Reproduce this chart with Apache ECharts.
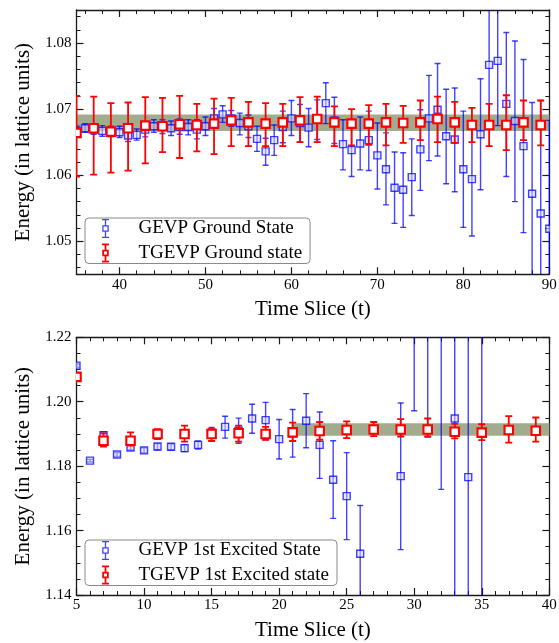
<!DOCTYPE html>
<html>
<head>
<meta charset="utf-8">
<script src="https://cdn.jsdelivr.net/npm/echarts@6/dist/echarts.min.js"></script>
<style>
  html, body { margin: 0; padding: 0; background: #fff; }
  #chart { width: 559px; height: 643px; }
</style>
</head>
<body>
<div id="chart"></div>
<script>
// ---------- Ground state (upper panel) ----------
const groundT = [35, 36, 37, 38, 39, 40, 41, 42, 43, 44, 45, 46, 47, 48, 49, 50, 51, 52, 53, 54,
  55, 56, 57, 58, 59, 60, 61, 62, 63, 64, 65, 66, 67, 68, 69, 70, 71, 72, 73, 74,
  75, 76, 77, 78, 79, 80, 81, 82, 83, 84, 85, 86, 87, 88, 89, 90];
const gevpGround = [1.0667, 1.0671, 1.0669, 1.0667, 1.0666, 1.0665, 1.0660, 1.0661, 1.0669, 1.0674,
  1.0673, 1.0671, 1.0673, 1.0673, 1.0669, 1.0674, 1.0686, 1.0692, 1.0686, 1.0679,
  1.0674, 1.0655, 1.0636, 1.0653, 1.0673, 1.0686, 1.0679, 1.0672, 1.0684, 1.0709,
  1.0683, 1.0647, 1.0638, 1.0648, 1.0653, 1.0630, 1.0609, 1.0581, 1.0578, 1.0597,
  1.0639, 1.0686, 1.0699, 1.0659, 1.0654, 1.0609, 1.0594, 1.0662, 1.0767, 1.0773,
  1.0708, 1.0682, 1.0644, 1.0572, 1.0542, 1.0519];
const gevpGroundLo = [1.0660, 1.0665, 1.0662, 1.0659, 1.0658, 1.0657, 1.0651, 1.0653, 1.0658, 1.0665,
  1.0663, 1.0660, 1.0662, 1.0661, 1.0655, 1.0660, 1.0671, 1.0680, 1.0674, 1.0661,
  1.0657, 1.0636, 1.0615, 1.0630, 1.0649, 1.0660, 1.0650, 1.0643, 1.0654, 1.0678,
  1.0648, 1.0608, 1.0598, 1.0608, 1.0607, 1.0579, 1.0555, 1.0527, 1.0521, 1.0539,
  1.0577, 1.0622, 1.0629, 1.0587, 1.0575, 1.0521, 1.0508, 1.0578, 1.0675, 1.0675,
  1.0598, 1.0560, 1.0513, 1.0434, 1.0371, 1.0355];
const gevpGroundHi = [1.0674, 1.0678, 1.0676, 1.0675, 1.0674, 1.0674, 1.0671, 1.0670, 1.0680, 1.0684,
  1.0684, 1.0682, 1.0685, 1.0684, 1.0684, 1.0688, 1.0701, 1.0705, 1.0698, 1.0694,
  1.0691, 1.0674, 1.0656, 1.0676, 1.0697, 1.0713, 1.0707, 1.0701, 1.0714, 1.0740,
  1.0718, 1.0684, 1.0684, 1.0688, 1.0697, 1.0679, 1.0664, 1.0635, 1.0634, 1.0655,
  1.0699, 1.0751, 1.0769, 1.0730, 1.0732, 1.0697, 1.0681, 1.0746, 1.0859, 1.0871,
  1.0816, 1.0803, 1.0775, 1.0710, 1.0713, 1.0683];

const tgevpGroundT = [35, 37, 39, 41, 43, 45, 47, 49, 51, 53, 55, 57, 59, 61,
  63, 65, 67, 69, 71, 73, 75, 77, 79, 81, 83, 85, 87, 89];
const tgevpGround = [1.0664, 1.0671, 1.0666, 1.0671, 1.0675, 1.0674, 1.0677, 1.0676, 1.0678, 1.0683,
  1.0680, 1.0678, 1.0680, 1.0683, 1.0685, 1.0680, 1.0678, 1.0678, 1.0680, 1.0679,
  1.0680, 1.0685, 1.0680, 1.0676, 1.0676, 1.0676, 1.0680, 1.0676];
const tgevpGroundLo = [1.0598, 1.0601, 1.0604, 1.0607, 1.0618, 1.0635, 1.0626, 1.0636, 1.0632, 1.0644,
  1.0644, 1.0644, 1.0644, 1.0650, 1.0650, 1.0644, 1.0645, 1.0646, 1.0645, 1.0649,
  1.0653, 1.0650, 1.0649, 1.0650, 1.0644, 1.0638, 1.0653, 1.0645];
const tgevpGroundHi = [1.0720, 1.0719, 1.0709, 1.0710, 1.0718, 1.0717, 1.0720, 1.0708, 1.0716, 1.0717,
  1.0711, 1.0709, 1.0708, 1.0718, 1.0719, 1.0704, 1.0700, 1.0706, 1.0708, 1.0705,
  1.0713, 1.0719, 1.0711, 1.0702, 1.0708, 1.0721, 1.0713, 1.0713];

// fitted plateau: [t from, t to, E low, E high]
const groundFit = [35, 90, 1.0667, 1.0692];

// ---------- First excited state (lower panel) ----------
const excitedT = [5, 6, 7, 8, 9, 10, 11, 12, 13, 14, 15, 16, 17, 18, 19, 20, 21, 22, 23, 24,
  25, 26, 29, 30, 31, 32, 33, 34, 35];
const gevpExcited = [1.2112, 1.1817, 1.1896, 1.1836, 1.1858, 1.1849, 1.1861, 1.1860, 1.1856, 1.1866,
  1.1904, 1.1922, 1.1910, 1.1948, 1.1943, 1.1884, 1.1902, 1.1941, 1.1866, 1.1758,
  1.1707, 1.1528, 1.1769, 1.2320, 1.2360, 1.2320, 1.1948, 1.1766, 1.1300];
const gevpExcitedLo = [1.2107, 1.1813, 1.1886, 1.1830, 1.1850, 1.1841, 1.1851, 1.1851, 1.1845, 1.1853,
  1.1888, 1.1887, 1.1871, 1.1902, 1.1882, 1.1822, 1.1828, 1.1857, 1.1762, 1.1638,
  1.1572, 1.1378, 1.1541, 1.1972, 1.1890, 1.1728, 1.1200, 1.0900, 1.0300];
const gevpExcitedHi = [1.2117, 1.1821, 1.1906, 1.1842, 1.1866, 1.1857, 1.1870, 1.1869, 1.1866, 1.1878,
  1.1920, 1.1955, 1.1949, 1.1992, 1.1998, 1.1945, 1.1976, 1.2025, 1.1968, 1.1879,
  1.1842, 1.1678, 1.1996, 1.2670, 1.2830, 1.2910, 1.2700, 1.2630, 1.2300];

const tgevpExcitedT = [5, 7, 9, 11, 13, 15, 17, 19, 21, 23, 25, 27, 29, 31, 33, 35, 37, 39];
const tgevpExcited = [1.2077, 1.1879, 1.1879, 1.1900, 1.1900, 1.1900, 1.1902, 1.1900, 1.1905, 1.1909,
  1.1912, 1.1914, 1.1914, 1.1914, 1.1907, 1.1904, 1.1912, 1.1910];
const tgevpExcitedLo = [1.2072, 1.1861, 1.1864, 1.1884, 1.1876, 1.1878, 1.1876, 1.1882, 1.1878, 1.1882,
  1.1887, 1.1893, 1.1892, 1.1892, 1.1886, 1.1881, 1.1873, 1.1876];
const tgevpExcitedHi = [1.2082, 1.1902, 1.1905, 1.1915, 1.1926, 1.1915, 1.1926, 1.1922, 1.1935, 1.1937,
  1.1939, 1.1937, 1.1946, 1.1948, 1.1931, 1.1930, 1.1955, 1.1951];

const excitedFit = [21, 40, 1.1894, 1.1933];

// ---------- tick labels ----------
const groundXTicks = [40, 50, 60, 70, 80, 90];
const groundYTicks = [1.05, 1.06, 1.07, 1.08];
const excitedXTicks = [5, 10, 15, 20, 25, 30, 35, 40];
const excitedYTicks = [1.14, 1.16, 1.18, 1.20, 1.22];

// ---------- styling helpers ----------
const SERIF = 'Liberation Serif';
const INK = '#1a1a1a';
const BLUE = { color: 'rgba(0,0,255,0.74)', face: 'rgba(215,215,255,0.55)', lineWidth: 1.4, cap: 6, size: 7, edge: 1.4 };
const RED = { color: '#ff0000', face: '#ffffff', lineWidth: 1.8, cap: 7, size: 8.5, edge: 2.1 };
const BAND = '#a2ab8e';

function steps(from, to, step) {
  const out = [];
  const n = Math.round((to - from) / step);
  for (let i = 0; i <= n; i++) out.push(Math.round((from + i * step) * 1e6) / 1e6);
  return out;
}

function rows(t, v, lo, hi) {
  return t.map((x, i) => [x, v[i], lo[i], hi[i]]);
}

function errorBarItem(look) {
  return function (params, api) {
    const c = api.coord([api.value(0), api.value(1)]);
    const a = api.coord([api.value(0), api.value(2)]);
    const b = api.coord([api.value(0), api.value(3)]);
    const hc = look.cap / 2, hs = look.size / 2;
    const line = { stroke: look.color, lineWidth: look.lineWidth };
    return {
      type: 'group',
      children: [
        { type: 'line', shape: { x1: c[0], y1: a[1], x2: c[0], y2: b[1] }, style: line },
        { type: 'line', shape: { x1: c[0] - hc, y1: a[1], x2: c[0] + hc, y2: a[1] }, style: line },
        { type: 'line', shape: { x1: c[0] - hc, y1: b[1], x2: c[0] + hc, y2: b[1] }, style: line },
        { type: 'rect', shape: { x: c[0] - hs, y: c[1] - hs, width: look.size, height: look.size },
          style: { fill: look.face, stroke: look.color, lineWidth: look.edge } }
      ]
    };
  };
}

function bandItem(params, api) {
  const p0 = api.coord([api.value(0), api.value(3)]);
  const p1 = api.coord([api.value(1), api.value(2)]);
  return { type: 'rect', shape: { x: p0[0], y: p0[1], width: p1[0] - p0[0], height: p1[1] - p0[1] },
    style: { fill: BAND } };
}

// legend glyph: split stem, two caps and a hollow square
function rectsPath(list) {
  return 'path://' + list.map(([x, y, w, h]) =>
    `M${x} ${y}L${x + w} ${y}L${x + w} ${y + h}L${x} ${y + h}Z`).join('');
}
function errorGlyph(lw, edge) {
  const W = 8, H = 19, cx = W / 2, s = 6.5, sy = (H - s) / 2;
  return rectsPath([
    [cx - lw / 2, 0, lw, sy], [cx - lw / 2, sy + s, lw, H - sy - s],
    [0.5, 0, W - 1, lw], [0.5, H - lw, W - 1, lw],
    [cx - s / 2, sy, s, edge], [cx - s / 2, sy + s - edge, s, edge],
    [cx - s / 2, sy, edge, s], [cx + s / 2 - edge, sy, edge, s]
  ]);
}

// four-sided frame: major + minor inward ticks on every side
function frameAxes(dim, grid, range, major, minor, fmt, name, nameGap) {
  const sides = dim === 'x' ? ['bottom', 'top'] : ['left', 'right'];
  const out = [];
  sides.forEach((pos, s) => {
    [major, minor].forEach((ticks, k) => {
      const main = s === 0 && k === 0;
      out.push({
        type: 'value', gridIndex: grid, position: pos, min: range[0], max: range[1],
        axisLine: { show: k === 0, onZero: false, lineStyle: { color: INK, width: 1.3 } },
        axisTick: { show: true, inside: true, length: k === 0 ? 7 : 4, customValues: ticks,
          lineStyle: { color: INK, width: k === 0 ? 1.2 : 1 } },
        axisLabel: { show: main, customValues: ticks, formatter: fmt, margin: dim === 'x' ? 3 : 5,
          fontFamily: SERIF, fontSize: 15, color: '#000' },
        splitLine: { show: false },
        axisPointer: { show: false },
        name: main ? name : '',
        nameLocation: 'middle',
        nameGap: nameGap,
        nameTextStyle: { fontFamily: SERIF, fontSize: 21, color: '#000' }
      });
    });
  });
  return out;
}

const fmtX = v => String(Math.round(v));
const fmtY = v => v.toFixed(2);

const xAxes = [].concat(
  frameAxes('x', 0, [35, 90], groundXTicks, steps(36, 90, 2), fmtX, 'Time Slice (t)', 25),
  frameAxes('x', 1, [5, 40], excitedXTicks, steps(5, 40, 1), fmtX, 'Time Slice (t)', 25)
);
const yAxes = [].concat(
  frameAxes('y', 0, [1.045, 1.085], groundYTicks, steps(1.046, 1.084, 0.002), fmtY, 'Energy (in lattice units)', 41),
  frameAxes('y', 1, [1.14, 1.22], excitedYTicks, steps(1.14, 1.22, 0.005), fmtY, 'Energy (in lattice units)', 41)
);

function errSeries(name, data, look, panel) {
  return {
    type: 'custom', name: name, xAxisIndex: panel * 4, yAxisIndex: panel * 4,
    data: data, renderItem: errorBarItem(look), clip: true, silent: true,
    itemStyle: { color: look.color }, encode: { x: 0, y: 1 }
  };
}
function bandSeries(fit, panel) {
  return {
    type: 'custom', xAxisIndex: panel * 4, yAxisIndex: panel * 4,
    data: [fit], renderItem: bandItem, clip: true, silent: true, encode: { x: 0, y: 2 }
  };
}

function legendBox(top, names) {
  return {
    orient: 'vertical', left: 85, top: top,
    padding: [1, 8, 1, 17], itemGap: 5.5, itemWidth: 8, itemHeight: 19,
    backgroundColor: '#fff', borderColor: '#8a8a8a', borderWidth: 1, borderRadius: 4,
    selectedMode: false,
    textStyle: { fontFamily: SERIF, fontSize: 19, color: '#000', padding: [0, 0, 0, 24] },
    data: [
      { name: names[0], icon: errorGlyph(1.3, 1.3), itemStyle: { color: BLUE.color, borderWidth: 0 } },
      { name: names[1], icon: errorGlyph(1.8, 1.8), itemStyle: { color: RED.color, borderWidth: 0 } }
    ]
  };
}

const chart = echarts.init(document.getElementById('chart'), null, { renderer: 'canvas' });
chart.setOption({
  animation: false,
  backgroundColor: '#fff',
  grid: [
    { left: 76.5, top: 10, width: 472.8, height: 264.3, outerBoundsMode: 'none' },
    { left: 76.5, top: 337.3, width: 472.8, height: 257.7, outerBoundsMode: 'none' }
  ],
  xAxis: xAxes,
  yAxis: yAxes,
  legend: [
    legendBox(218, ['GEVP Ground State', 'TGEVP Ground state']),
    legendBox(540, ['GEVP 1st Excited State', 'TGEVP 1st Excited state'])
  ],
  series: [
    bandSeries(groundFit, 0),
    errSeries('GEVP Ground State', rows(groundT, gevpGround, gevpGroundLo, gevpGroundHi), BLUE, 0),
    errSeries('TGEVP Ground state', rows(tgevpGroundT, tgevpGround, tgevpGroundLo, tgevpGroundHi), RED, 0),
    bandSeries(excitedFit, 1),
    errSeries('GEVP 1st Excited State', rows(excitedT, gevpExcited, gevpExcitedLo, gevpExcitedHi), BLUE, 1),
    errSeries('TGEVP 1st Excited state', rows(tgevpExcitedT, tgevpExcited, tgevpExcitedLo, tgevpExcitedHi), RED, 1)
  ]
});
</script>
</body>
</html>
